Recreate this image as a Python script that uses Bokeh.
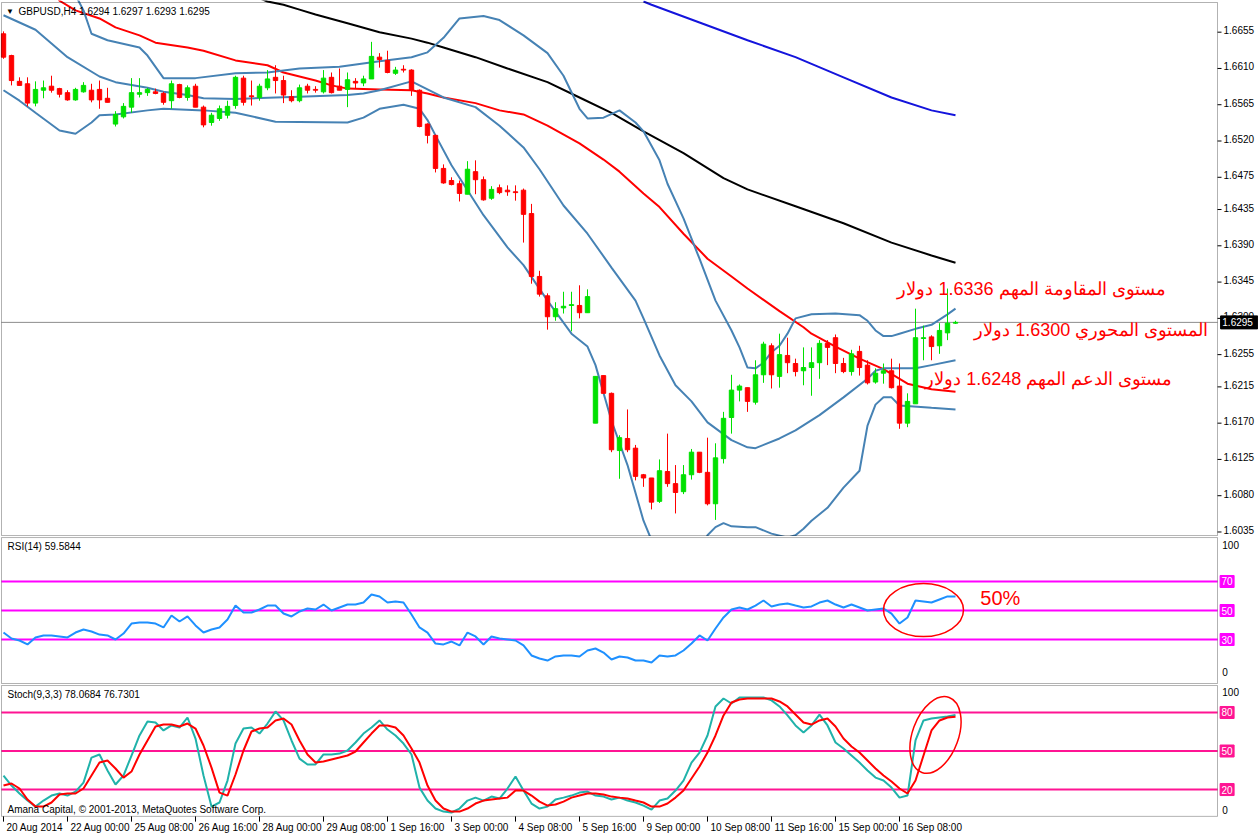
from bokeh.plotting import figure
from bokeh.models import Range1d, ColumnDataSource, BoxAnnotation
from bokeh.layouts import column
from bokeh.embed import file_html
from bokeh.resources import INLINE
from bokeh.core.properties import value

FONT = "Liberation Sans"

# ---------------- data (GBPUSD H4, bar index 0 = 20 Aug 2014 16:00) ----------------
bar_open = [1.6653,1.6626,1.6594,1.6591,1.6567,1.6583,1.6588,1.6585,1.6580,1.6571,
            1.6581,1.6583,1.6584,1.6573,1.6541,1.6550,1.6562,1.6578,1.6580,1.6581,
            1.6579,1.6570,1.6590,1.6574,1.6588,1.6562,1.6543,1.6548,1.6552,1.6564,
            1.6598,1.6576,1.6574,1.6586,1.6599,1.6595,1.6575,1.6570,1.6588,1.6584,
            1.6581,1.6599,1.6588,1.6584,1.6594,1.6592,1.6597,1.6624,1.6620,1.6604,
            1.6609,1.6608,1.6583,1.6541,1.6527,1.6486,1.6471,1.6467,1.6454,1.6482,
            1.6472,1.6449,1.6462,1.6459,1.6457,1.6459,1.6430,1.6352,1.6328,1.6302,
            1.6313,1.6316,1.6316,1.6307,1.6170,1.6229,1.6207,1.6136,1.6151,1.6139,
            1.6106,1.6102,1.6073,1.6110,1.6095,1.6085,1.6106,1.6134,1.6109,1.6070,
            1.6126,1.6177,1.6211,1.6214,1.6196,1.6230,1.6266,1.6228,1.6254,1.6244,
            1.6235,1.6239,1.6245,1.6269,1.6276,1.6244,1.6234,1.6259,1.6242,1.6221,
            1.6232,1.6235,1.6216,1.6170,1.6194,1.6275,1.6277,1.6266,1.6282,1.6294]
bar_high = [1.6656,1.6627,1.6599,1.6599,1.6594,1.6595,1.6601,1.6586,1.6583,1.6586,
            1.6593,1.6591,1.6595,1.6586,1.6557,1.6567,1.6598,1.6598,1.6586,1.6585,
            1.6581,1.6595,1.6591,1.6589,1.6591,1.6564,1.6555,1.6564,1.6570,1.6601,
            1.6601,1.6595,1.6591,1.6608,1.6614,1.6601,1.6583,1.6590,1.6591,1.6588,
            1.6608,1.6605,1.6610,1.6605,1.6598,1.6601,1.6643,1.6629,1.6632,1.6612,
            1.6614,1.6609,1.6584,1.6542,1.6528,1.6491,1.6475,1.6471,1.6495,1.6496,
            1.6476,1.6464,1.6466,1.6465,1.6465,1.6461,1.6442,1.6359,1.6331,1.6320,
            1.6333,1.6333,1.6341,1.6336,1.6228,1.6229,1.6208,1.6155,1.6187,1.6143,
            1.6107,1.6102,1.6125,1.6157,1.6118,1.6118,1.6138,1.6134,1.6152,1.6145,
            1.6184,1.6230,1.6218,1.6214,1.6248,1.6271,1.6269,1.6281,1.6276,1.6250,
            1.6264,1.6264,1.6273,1.6273,1.6280,1.6251,1.6261,1.6266,1.6248,1.6238,
            1.6244,1.6250,1.6244,1.6207,1.6312,1.6291,1.6279,1.6294,1.6337,1.6297]
bar_low = [1.6622,1.6589,1.6589,1.6563,1.6563,1.6573,1.6580,1.6574,1.6570,1.6570,
           1.6580,1.6568,1.6560,1.6568,1.6538,1.6548,1.6555,1.6574,1.6576,1.6578,
           1.6565,1.6560,1.6573,1.6570,1.6562,1.6537,1.6539,1.6545,1.6548,1.6560,
           1.6564,1.6564,1.6570,1.6583,1.6579,1.6567,1.6568,1.6568,1.6579,1.6580,
           1.6579,1.6579,1.6583,1.6562,1.6585,1.6588,1.6597,1.6611,1.6604,1.6602,
           1.6605,1.6576,1.6537,1.6517,1.6481,1.6467,1.6465,1.6445,1.6454,1.6454,
           1.6446,1.6447,1.6454,1.6452,1.6446,1.6394,1.6343,1.6327,1.6286,1.6297,
           1.6306,1.6284,1.6300,1.6307,1.6170,1.6207,1.6134,1.6101,1.6134,1.6099,
           1.6091,1.6063,1.6071,1.6091,1.6058,1.6082,1.6100,1.6108,1.6068,1.6050,
           1.6120,1.6157,1.6197,1.6184,1.6193,1.6220,1.6213,1.6214,1.6232,1.6228,
           1.6217,1.6204,1.6225,1.6242,1.6232,1.6232,1.6229,1.6229,1.6218,1.6219,
           1.6219,1.6213,1.6163,1.6165,1.6194,1.6248,1.6248,1.6256,1.6273,1.6293]
bar_close = [1.6624,1.6595,1.6589,1.6567,1.6584,1.6586,1.6583,1.6578,1.6571,1.6584,
             1.6589,1.6571,1.6571,1.6568,1.6553,1.6563,1.6580,1.6580,1.6584,1.6579,
             1.6568,1.6591,1.6574,1.6586,1.6562,1.6540,1.6552,1.6560,1.6563,1.6599,
             1.6568,1.6575,1.6588,1.6597,1.6595,1.6577,1.6570,1.6586,1.6583,1.6583,
             1.6598,1.6580,1.6583,1.6596,1.6592,1.6597,1.6625,1.6621,1.6605,1.6608,
             1.6608,1.6583,1.6538,1.6527,1.6486,1.6468,1.6466,1.6455,1.6485,1.6472,
             1.6447,1.6460,1.6456,1.6457,1.6456,1.6429,1.6352,1.6330,1.6302,1.6312,
             1.6315,1.6317,1.6307,1.6327,1.6228,1.6207,1.6137,1.6152,1.6137,1.6104,
             1.6102,1.6072,1.6111,1.6095,1.6084,1.6106,1.6134,1.6109,1.6070,1.6127,
             1.6176,1.6211,1.6216,1.6197,1.6230,1.6268,1.6230,1.6255,1.6245,1.6234,
             1.6239,1.6245,1.6269,1.6264,1.6244,1.6234,1.6256,1.6239,1.6220,1.6232,
             1.6235,1.6214,1.6170,1.6197,1.6276,1.6276,1.6265,1.6285,1.6294,1.6295]

bb_up_x = [9,10,11,13,17,18,20,24,29,33,37,42,47,51,53,55,57,60,62,65,68,70,72,73,75,77,79,80,82,83,
           85,87,89,91,92,93,94,95,96,97,98,99,101,104,107,108,109,110,111,112,114,116,118,119]
bb_up_y = [1.6701,1.6682,1.6653,1.6645,1.6636,1.6626,1.6598,1.6598,1.6604,1.6605,
           1.6610,1.6612,1.6619,1.6624,1.6630,1.6648,1.6672,1.6675,1.6670,1.6651,
           1.6629,1.6601,1.6560,1.6548,1.6549,1.6558,1.6543,1.6532,1.6496,1.6467,
           1.6424,1.6374,1.6322,1.6285,1.6264,1.6239,1.6238,1.6245,1.6258,1.6266,
           1.6281,1.6300,1.6305,1.6306,1.6304,1.6297,1.6285,1.6278,1.6278,1.6281,
           1.6287,1.6292,1.6305,1.6312]
bb_mid_x = [0,4,8,12,14,18,20,23,25,29,34,37,43,45,47,51,52,55,59,62,65,67,70,73,76,79,80,82,84,86,
            88,91,93,94,97,99,102,105,108,109,110,114,116,119]
bb_mid_y = [1.6676,1.6658,1.6624,1.6600,1.6593,1.6586,1.6581,1.6577,1.6573,1.6572,
            1.6574,1.6575,1.6577,1.6579,1.6583,1.6594,1.6589,1.6574,1.6562,1.6539,
            1.6512,1.6485,1.6440,1.6405,1.6363,1.6322,1.6300,1.6254,1.6217,1.6197,
            1.6171,1.6149,1.6140,1.6139,1.6151,1.6161,1.6180,1.6202,1.6225,1.6235,
            1.6238,1.6238,1.6242,1.6248]
bb_low_x = [0,2,4,7,9,11,12,14,18,20,25,29,34,43,45,47,50,52,53,54,56,58,60,63,65,68,71,73,74,76,
            78,80,81,82,85,87,88,89,90,91,93,94,96,98,99,100,101,103,105,107,108,109,110,111,112,116,119]
bb_low_y = [1.6583,1.6570,1.6555,1.6533,1.6529,1.6543,1.6552,1.6553,1.6558,1.6560,
            1.6558,1.6555,1.6544,1.6543,1.6549,1.6560,1.6565,1.6560,1.6546,1.6527,
            1.6490,1.6459,1.6428,1.6388,1.6366,1.6322,1.6281,1.6265,1.6242,1.6173,
            1.6118,1.6049,1.6025,1.5995,1.5975,1.6005,1.6031,1.6041,1.6046,1.6042,
            1.6041,1.6041,1.6033,1.6028,1.6031,1.6039,1.6049,1.6065,1.6090,1.6111,
            1.6167,1.6193,1.6202,1.6202,1.6192,1.6189,1.6187]
ma_red_x = [6,7,9,12,14,17,19,23,25,29,33,35,39,41,43,47,51,53,55,59,62,65,68,72,75,77,80,82,85,88,
            91,93,97,100,101,104,107,110,113,116,119]
ma_red_y = [1.6709,1.6694,1.6682,1.6672,1.6661,1.6651,1.6642,1.6636,1.6632,1.6620,
            1.6614,1.6605,1.6595,1.6589,1.6585,1.6584,1.6583,1.6579,1.6574,1.6567,
            1.6558,1.6553,1.6539,1.6517,1.6497,1.6482,1.6455,1.6438,1.6405,1.6374,
            1.6352,1.6337,1.6309,1.6289,1.6281,1.6265,1.6250,1.6237,1.6219,1.6212,1.6209]
ma_black_x = [32,33,35,37,39,43,47,51,53,55,59,63,68,72,76,80,85,90,93,99,105,111,116,119]
ma_black_y = [1.6697,1.6693,1.6689,1.6683,1.6677,1.6666,1.6655,1.6647,1.6642,1.6636,
              1.6624,1.6610,1.6593,1.6574,1.6555,1.6532,1.6505,1.6474,1.6460,1.6439,
              1.6418,1.6394,1.6378,1.6369]
ma_blue_x = [80,81,87,93,99,105,111,116,119]
ma_blue_y = [1.6693,1.6689,1.6667,1.6645,1.6624,1.6599,1.6574,1.6558,1.6552]

rsi = [34.8,30.7,29.3,26.6,31.4,32.8,32.8,32.1,31.4,34.8,
       36.9,35.5,33.4,32.8,30.0,34.1,41.0,41.7,41.7,41.0,
       38.3,46.6,42.4,45.9,39.7,34.8,36.9,38.3,43.8,53.4,
       48.6,48.6,50.7,53.4,53.4,47.9,45.9,49.3,51.4,50.7,
       54.1,50.0,52.1,54.1,54.1,55.5,61.0,59.7,55.5,56.2,
       55.5,47.2,38.3,34.8,27.2,26.6,28.6,25.9,34.8,32.1,
       26.6,32.1,30.7,30.0,29.3,25.9,19.0,16.9,15.5,18.3,
       19.0,19.0,18.3,22.4,23.8,21.0,16.2,18.3,17.6,15.5,
       15.5,14.1,19.0,18.3,19.0,22.4,27.2,32.8,29.3,37.6,
       45.2,50.7,52.1,50.7,53.4,56.9,52.8,54.1,54.8,53.4,
       52.1,52.8,55.5,56.9,54.1,52.1,54.1,52.1,50.0,50.7,
       51.4,47.9,41.0,45.2,56.9,56.2,55.5,57.6,59.7,59.58]
stoch_k = [30.9,23.1,16.9,11.4,6.7,11.4,15.3,16.9,15.3,18.4,
           25.4,44.9,47.3,34.8,23.9,30.9,46.5,62.1,73.0,72.2,
           66.0,69.9,68.3,76.1,59.7,30.9,6.7,9.9,27.0,55.8,
           67.5,68.3,63.6,71.4,80.8,73.8,58.2,44.1,39.5,39.5,
           47.3,47.3,48.0,50.4,56.6,63.6,68.3,73.8,66.7,62.1,
           55.8,47.3,21.5,11.4,5.2,2.8,2.1,5.2,11.4,13.7,
           11.4,14.5,13.0,20.8,30.1,19.2,9.1,5.2,6.7,12.2,
           13.7,15.3,17.6,18.4,15.3,14.5,12.2,13.7,11.4,9.9,
           7.5,4.4,11.4,13.0,19.2,27.0,41.0,48.8,62.1,84.7,
           90.9,87.0,91.7,91.7,91.7,91.7,89.4,84.7,77.7,69.9,
           64.4,69.9,78.4,69.9,56.6,51.9,46.5,41.0,34.8,29.3,
           27.0,21.5,13.7,15.3,58.2,73.8,75.3,76.1,76.9,78.07]
stoch_d = [23.1,24.7,20.8,12.2,6.7,6.7,9.9,16.1,16.9,16.9,
           20.8,30.9,41.0,42.6,36.4,29.3,34.0,47.3,58.2,69.1,
           70.6,70.6,69.1,71.4,67.5,54.3,37.1,17.6,15.3,31.7,
           50.4,65.2,67.5,68.3,73.8,75.3,70.6,58.2,47.3,41.0,
           41.8,43.4,44.9,46.5,49.6,56.6,63.6,69.9,69.9,68.3,
           62.1,51.9,41.0,23.1,11.4,5.2,2.8,2.8,5.2,9.1,
           11.4,12.2,13.0,13.7,19.2,19.2,15.3,10.6,7.5,8.3,
           10.6,13.7,15.3,16.9,16.9,16.1,14.5,13.7,13.0,11.4,
           9.9,6.7,6.7,9.1,13.7,19.2,28.6,37.9,48.8,62.1,
           77.7,87.8,90.1,90.9,90.9,90.9,90.9,88.6,84.7,78.4,
           72.2,70.6,73.8,75.3,69.1,59.7,53.5,48.8,42.6,36.4,
           30.9,26.2,20.8,16.9,27.0,46.5,66.0,73.8,76.1,76.73]

price_ticks = [1.6655,1.6610,1.6565,1.6520,1.6475,1.6435,1.6390,1.6345,1.6300,
               1.6255,1.6215,1.6170,1.6125,1.6080,1.6035]
time_tick_pos = [0,8,16,24,32,40,48,56,64,72,80,88,96,104,112]
time_tick_labels = ["20 Aug 2014","22 Aug 00:00","25 Aug 08:00","26 Aug 16:00","28 Aug 00:00",
                    "29 Aug 08:00","1 Sep 16:00","3 Sep 00:00","4 Sep 08:00","5 Sep 16:00",
                    "9 Sep 00:00","10 Sep 08:00","11 Sep 16:00","15 Sep 00:00","16 Sep 08:00"]
rsi_levels = [70,50,30]
stoch_levels = [80,50,20]
levels_text = [("مستوى المقاومة المهم 1.6336 دولار", 145.25, 1.6337),
               ("المستوى المحوري 1.6300 دولار", 150.6, 1.6285),
               ("مستوى الدعم المهم 1.6248 دولار", 146.1, 1.6225)]
rsi_ring = dict(x=[115], y=[50.3])
stoch_ring = dict(x=[116.5], y=[62.5])

# ---------------- layout ----------------
W = 1258
XR = Range1d(-0.375, 156.875)     # 8 px per H4 bar, whole canvas width
X0 = -0.25                        # left border of the chart window
EDGE = 151.75                     # right border of the chart window (price scale on its right)

def make_fig(h, yr):
    f = figure(width=W, height=h, x_range=XR, y_range=yr, output_backend="svg",
               toolbar_location=None, x_axis_location=None, y_axis_location=None,
               min_border=0, min_border_left=0, min_border_right=0,
               min_border_top=0, min_border_bottom=0)
    f.grid.visible = False
    f.outline_line_color = None
    f.background_fill_color = "white"
    f.border_fill_color = "white"
    return f

def txt(f, x, y, t, size="10px", color="black", align="left", baseline="middle", xo=0, yo=0):
    f.text(x=x, y=y, text=t, text_font=value(FONT), text_font_size=value(size),
           text_color=color, text_align=align, text_baseline=baseline, x_offset=xo, y_offset=yo)

def level_boxes(f, levels, color):
    f.rect(x=[EDGE + 1.2] * len(levels), y=levels, width=14, height=12,
           width_units="screen", height_units="screen", fill_color=color, line_color=color)
    txt(f, [EDGE + 1.2] * len(levels), levels, [str(v) for v in levels], color="white", align="center")

# ---- main price panel ----
p = make_fig(536, Range1d(1.60294, 1.66943))
p.add_layout(BoxAnnotation(left=X0, right=EDGE, top=1.66918, bottom=1.60306,
                           fill_color=None, fill_alpha=0, line_color="black", line_width=1))

n = len(bar_open)
idx = list(range(n))
col = ["#00E000" if c > o else "#FF0000" for o, c in zip(bar_open, bar_close)]
src = ColumnDataSource(dict(x=idx, o=bar_open, h=bar_high, l=bar_low, c=bar_close,
                            top=[max(o, c) for o, c in zip(bar_open, bar_close)],
                            bot=[min(o, c) for o, c in zip(bar_open, bar_close)],
                            color=col))

last = bar_close[-1]
p.segment(x0=[X0], x1=[EDGE], y0=[last], y1=[last], line_color="#8C8C8C", line_width=1)

p.line(ma_blue_x, ma_blue_y, line_color="#1414DC", line_width=2)
p.line(ma_black_x, ma_black_y, line_color="black", line_width=2)
p.line(ma_red_x, ma_red_y, line_color="#FF0000", line_width=2)
for bx, by in ((bb_up_x, bb_up_y), (bb_mid_x, bb_mid_y), (bb_low_x, bb_low_y)):
    p.line(bx, by, line_color="#4682B4", line_width=2)

p.segment(x0="x", y0="l", x1="x", y1="h", line_color="color", line_width=1, source=src)
p.vbar(x="x", width=0.55, top="top", bottom="bot", fill_color="color",
       line_color="color", line_width=1, source=src)

# price scale
p.segment(x0=[EDGE] * len(price_ticks), x1=[EDGE + 0.5] * len(price_ticks),
          y0=price_ticks, y1=price_ticks, line_color="black", line_width=1)
txt(p, [EDGE + 0.75] * len(price_ticks), price_ticks, ["%.4f" % v for v in price_ticks], yo=-2)
p.rect(x=[EDGE + 2.7], y=[last], width=37, height=13, width_units="screen", height_units="screen",
       fill_color="black", line_color="black")
txt(p, [EDGE + 0.6], [last], ["%.4f" % last], color="white")

txt(p, [0.8], [1.66807], ["▼"], size="8px", align="center")
txt(p, [1.875], [1.66807],
    ["GBPUSD,H4  %.4f %.4f %.4f %.4f" % (bar_open[-1], bar_high[-1], bar_low[-1], bar_close[-1])])
for t, x, y in levels_text:
    txt(p, [x], [y], [t], size="18px", color="#FF0000", align="right")

# ---- RSI panel ----
pr = make_fig(148, Range1d(-1.03, 101.03))
pr.add_layout(BoxAnnotation(left=X0, right=EDGE, top=100.3, bottom=-0.35,
                            fill_color=None, fill_alpha=0, line_color="black", line_width=1))
pr.segment(x0=[X0] * 3, x1=[EDGE] * 3, y0=rsi_levels, y1=rsi_levels,
           line_color="#FF00FF", line_width=2)
pr.line(idx, rsi, line_color="#1E90FF", line_width=2)
pr.ellipse(x=rsi_ring["x"], y=rsi_ring["y"], width=80, height=53, width_units="screen",
           height_units="screen", fill_color=None, line_color="#FF0000", line_width=1.5)
txt(pr, [122.1], [58.3], ["50%"], size="20px", color="#FF0000")
txt(pr, [0.5], [94.1], ["RSI(14) %.4f" % 59.5844])
txt(pr, [EDGE + 0.6, EDGE + 0.6], [95.5, 7.6], ["100", "0"])
level_boxes(pr, rsi_levels, "#FF00FF")

# ---- Stochastic panel ----
ps = make_fig(151, Range1d(-15.8, 101.8))
ps.add_layout(BoxAnnotation(left=X0, right=EDGE, top=101.0, bottom=-0.9,
                            fill_color=None, fill_alpha=0, line_color="black", line_width=1))
ps.segment(x0=[X0] * 3, x1=[EDGE] * 3, y0=stoch_levels, y1=stoch_levels,
           line_color="#FF1493", line_width=2)
ps.line(idx, stoch_k, line_color="#20B2AA", line_width=2)
ps.line(idx, stoch_d, line_color="#FF0000", line_width=2)
ps.ellipse(x=stoch_ring["x"], y=stoch_ring["y"], width=46, height=80, angle=-0.35,
           width_units="screen", height_units="screen", fill_color=None,
           line_color="#FF0000", line_width=1.5)
txt(ps, [0.5], [94.1], ["Stoch(9,3,3) %.4f %.4f" % (78.0684, 76.7301)])
txt(ps, [0.5], [4.2], ["Amana Capital, © 2001-2013, MetaQuotes Software Corp."])
txt(ps, [EDGE + 0.6, EDGE + 0.6], [95.6, 3.7], ["100", "0"])
level_boxes(ps, stoch_levels, "#FF1493")

# time scale
ps.segment(x0=time_tick_pos, x1=time_tick_pos, y0=[-0.9] * len(time_tick_pos),
           y1=[-5.0] * len(time_tick_pos), line_color="black", line_width=1)
txt(ps, time_tick_pos, [-9.2] * len(time_tick_pos), time_tick_labels, xo=3)

layout = column(p, pr, ps, spacing=0)
open("out.html", "w").write(file_html(layout, INLINE, "GBPUSD H4"))
